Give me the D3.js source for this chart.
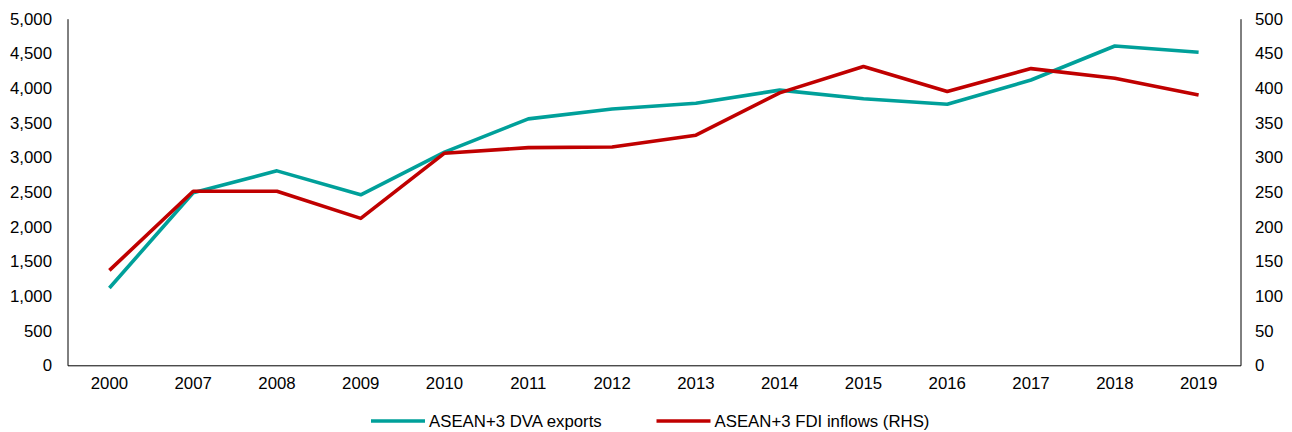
<!DOCTYPE html>
<html>
<head>
<meta charset="utf-8">
<script src="https://cdn.jsdelivr.net/npm/d3@7"></script>
<style>
  body { margin: 0; background: #fff; }
  text { font-family: "Liberation Sans", Arial, sans-serif; }
  .axis path { stroke: #000; }
</style>
</head>
<body>
<svg class="chart"></svg>
<script>
var years = ["2000","2007","2008","2009","2010","2011","2012","2013","2014","2015","2016","2017","2018","2019"];
var dvaExports = [1115, 2490, 2805, 2460, 3075, 3555, 3697, 3780, 3970, 3846, 3765, 4116, 4606, 4515];
var fdiInflows = [137, 251, 251, 212, 306, 314, 315, 332, 393, 431, 395, 428, 414, 390];
var leftTicks = [0, 500, 1000, 1500, 2000, 2500, 3000, 3500, 4000, 4500, 5000];
var rightTicks = [0, 50, 100, 150, 200, 250, 300, 350, 400, 450, 500];
var seriesNames = ["ASEAN+3 DVA exports", "ASEAN+3 FDI inflows (RHS)"];
var colors = ["#00A09A", "#C00000"];

var frameWidth = 1292;
var frameHeight = 432;
var lmargin = 67.5;
var rmargin = 1292 - 1240.5;
var tmargin = 18.7;
var plotBottom = 365.3;
var width = frameWidth - lmargin - rmargin;
var height = plotBottom - tmargin;

var svg = d3.select(".chart")
  .attr("width", frameWidth)
  .attr("height", frameHeight);

var xScale = d3.scaleBand().domain(years).range([0, width]);
var yLeft = d3.scaleLinear().domain([0, 5000]).range([height, 0]);
var yRight = d3.scaleLinear().domain([0, 500]).range([height, 0]);

var g = svg.append("g").attr("transform", "translate(" + lmargin + "," + tmargin + ")");

// axes
var fmt = d3.format(",");
g.append("g").attr("class", "axis")
  .call(d3.axisLeft(yLeft).tickValues(leftTicks).tickFormat(fmt).tickSize(0).tickPadding(15.5));
g.append("g").attr("class", "axis")
  .attr("transform", "translate(" + width + ",0)")
  .call(d3.axisRight(yRight).tickValues(rightTicks).tickSize(0).tickPadding(14.5));
g.append("g").attr("class", "axis")
  .attr("transform", "translate(0," + height + ")")
  .call(d3.axisBottom(xScale).tickSize(0).tickPadding(12));

g.selectAll(".axis text")
  .style("font-size", "16.8px")
  .style("fill", "#000")
  .style("font-family", "'Liberation Sans', Arial, sans-serif");

// lines
var xPos = function(d, i) { return xScale(years[i]) + xScale.bandwidth() / 2; };
var line1 = d3.line().x(xPos).y(function(d) { return yLeft(d); });
var line2 = d3.line().x(xPos).y(function(d) { return yRight(d); });

g.append("path").datum(dvaExports)
  .attr("d", line1)
  .attr("fill", "none")
  .attr("stroke", colors[0])
  .attr("stroke-width", 3.6)
  .attr("stroke-linejoin", "round");

g.append("path").datum(fdiInflows)
  .attr("d", line2)
  .attr("fill", "none")
  .attr("stroke", colors[1])
  .attr("stroke-width", 3.6)
  .attr("stroke-linejoin", "round");

// legend
var legendItems = [
  { name: seriesNames[0], color: colors[0], x: 371 },
  { name: seriesNames[1], color: colors[1], x: 656.5 }
];
var legend = svg.append("g");
legendItems.forEach(function(item) {
  legend.append("line")
    .attr("x1", item.x).attr("x2", item.x + 54)
    .attr("y1", 421).attr("y2", 421)
    .attr("stroke", item.color)
    .attr("stroke-width", 3.6);
  legend.append("text")
    .attr("x", item.x + 58)
    .attr("y", 421)
    .attr("dy", "0.35em")
    .style("font-size", "16.8px")
    .text(item.name);
});
</script>
</body>
</html>
